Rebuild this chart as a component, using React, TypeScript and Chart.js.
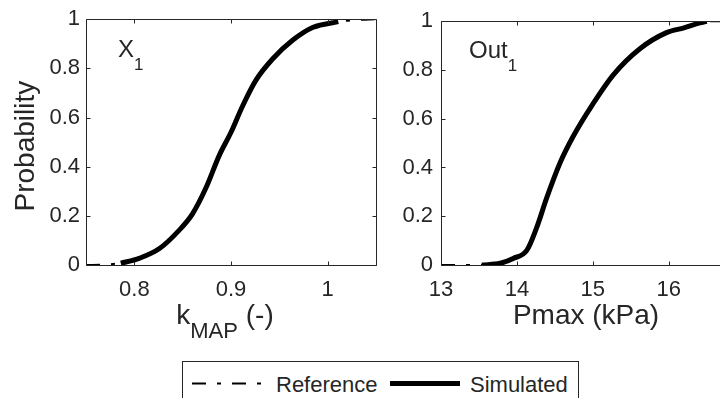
import React, { useEffect, useRef } from "react";
import { Chart, registerables } from "chart.js";

Chart.register(...registerables);

const FONT = "'Liberation Sans', Arial, Helvetica, sans-serif";
const TXT = "#262626";

// ---- Left panel: X1, k_MAP (-) ----
const leftSimX = [0.786, 0.805, 0.826, 0.846, 0.86, 0.874, 0.888, 0.9, 0.912, 0.926, 0.943, 0.964, 0.985, 1.011];
const leftSimY = [0.007, 0.027, 0.067, 0.14, 0.207, 0.313, 0.447, 0.54, 0.647, 0.753, 0.838, 0.915, 0.967, 0.99];
const leftRefX = [0.75, 0.77, 0.786, 0.805, 0.826, 0.846, 0.86, 0.874, 0.888, 0.9, 0.912, 0.926, 0.943, 0.964, 0.985, 1.011, 1.03, 1.05];
const leftRefY = [0, 0.002, 0.008, 0.027, 0.066, 0.14, 0.207, 0.313, 0.447, 0.54, 0.647, 0.753, 0.838, 0.915, 0.967, 0.99, 0.997, 1];
const leftXTicks = [0.8, 0.9, 1];
const leftXRange = [0.75, 1.05];

// ---- Right panel: Out1, Pmax (kPa) ----
const rightSimX = [13.54, 13.78, 13.95, 14.13, 14.26, 14.39, 14.57, 14.74, 15.0, 15.27, 15.62, 15.97, 16.2, 16.41, 16.5];
const rightSimY = [0, 0.007, 0.027, 0.06, 0.153, 0.273, 0.42, 0.527, 0.66, 0.78, 0.887, 0.953, 0.973, 0.993, 1];
const rightRefX = [13, 13.3, 13.54, 13.78, 13.95, 14.13, 14.26, 14.39, 14.57, 14.74, 15.0, 15.27, 15.62, 15.97, 16.2, 16.41, 16.5, 16.82];
const rightRefY = [0, 0, 0.001, 0.007, 0.027, 0.06, 0.153, 0.273, 0.42, 0.527, 0.66, 0.78, 0.887, 0.953, 0.973, 0.993, 1, 1];
const rightXTicks = [13, 14, 15, 16];
const rightXRange = [13, 16.82];

const yTicks = [0, 0.2, 0.4, 0.6, 0.8, 1];
const seriesNames = ["Reference", "Simulated"];

type Run = { t: string; size: number; dy: number };

function drawRuns(ctx: CanvasRenderingContext2D, runs: Run[], x: number, baseY: number, align: "left" | "center") {
  let total = 0;
  const widths = runs.map((r) => {
    ctx.font = `${r.size}px ${FONT}`;
    const w = ctx.measureText(r.t).width;
    total += w;
    return w;
  });
  let cx = align === "center" ? x - total / 2 : x;
  ctx.textAlign = "left";
  ctx.textBaseline = "alphabetic";
  ctx.fillStyle = TXT;
  runs.forEach((r, i) => {
    ctx.font = `${r.size}px ${FONT}`;
    ctx.fillText(r.t, cx, baseY + r.dy);
    cx += widths[i];
  });
}

function pts(xs: number[], ys: number[]) {
  return xs.map((x, i) => ({ x, y: ys[i] }));
}

type PanelCfg = {
  simX: number[];
  simY: number[];
  refX: number[];
  refY: number[];
  xTicks: number[];
  xRange: number[];
  yAxisWidth: number;
  padRight: number;
  yTickPad: number;
  decorate: (ctx: CanvasRenderingContext2D, area: any) => void;
};

function makeChart(canvas: HTMLCanvasElement, cfg: PanelCfg) {
  const frame = {
    id: "frame",
    afterDraw(chart: any) {
      const { ctx, chartArea: a, scales } = chart;
      ctx.save();
      ctx.strokeStyle = TXT;
      ctx.lineWidth = 1;
      const l = Math.round(a.left) + 0.5;
      const t = Math.round(a.top) + 0.5;
      const r = Math.round(a.right) + 0.5;
      const b = Math.round(a.bottom) + 0.5;
      ctx.beginPath();
      ctx.moveTo(l, t);
      ctx.lineTo(r, t);
      ctx.lineTo(r, b);
      ctx.lineTo(l, b);
      ctx.closePath();
      const tl = 4;
      for (const v of cfg.xTicks) {
        const x = Math.round(scales.x.getPixelForValue(v)) + 0.5;
        ctx.moveTo(x, b);
        ctx.lineTo(x, b - tl);
        ctx.moveTo(x, t);
        ctx.lineTo(x, t + tl);
      }
      for (const v of yTicks) {
        const y = Math.round(scales.y.getPixelForValue(v)) + 0.5;
        ctx.moveTo(l, y);
        ctx.lineTo(l + tl, y);
        ctx.moveTo(r, y);
        ctx.lineTo(r - tl, y);
      }
      ctx.stroke();
      cfg.decorate(ctx, a);
      ctx.restore();
    },
  };

  return new Chart(canvas, {
    type: "line",
    data: {
      datasets: [
        {
          label: seriesNames[1],
          data: pts(cfg.simX, cfg.simY),
          borderColor: "#000000",
          borderWidth: 5,
          pointRadius: 0,
          cubicInterpolationMode: "monotone",
          fill: false,
        },
        {
          label: seriesNames[0],
          data: pts(cfg.refX, cfg.refY),
          borderColor: "#000000",
          borderWidth: 2,
          borderDash: [14, 11, 4, 11],
          pointRadius: 0,
          cubicInterpolationMode: "monotone",
          fill: false,
        },
      ],
    },
    options: {
      responsive: false,
      animation: false,
      devicePixelRatio: 1,
      layout: { padding: { left: 0, right: cfg.padRight, top: 15, bottom: 0 } },
      plugins: { legend: { display: false }, tooltip: { enabled: false } },
      scales: {
        x: {
          type: "linear",
          min: cfg.xRange[0],
          max: cfg.xRange[1],
          grid: { display: false, drawTicks: false },
          border: { display: false },
          ticks: {
            font: { family: FONT, size: 22 },
            color: TXT,
            padding: 12,
            maxRotation: 0,
            autoSkip: false,
            callback: (v: any) => String(Math.round(Number(v) * 100) / 100),
          },
          afterBuildTicks: (s: any) => {
            s.ticks = cfg.xTicks.map((v) => ({ value: v }));
          },
          afterFit: (s: any) => {
            s.height = 133;
          },
        },
        y: {
          type: "linear",
          min: 0,
          max: 1,
          grid: { display: false, drawTicks: false },
          border: { display: false },
          ticks: {
            font: { family: FONT, size: 22 },
            color: TXT,
            padding: cfg.yTickPad,
            callback: (v: any) => String(Math.round(Number(v) * 10) / 10),
          },
          afterBuildTicks: (s: any) => {
            s.ticks = yTicks.map((v) => ({ value: v }));
          },
          afterFit: (s: any) => {
            s.width = cfg.yAxisWidth;
          },
        },
      },
    },
    plugins: [frame],
  } as any);
}

export default function App() {
  const leftRef = useRef<HTMLCanvasElement>(null);
  const rightRef = useRef<HTMLCanvasElement>(null);

  useEffect(() => {
    const c1 = makeChart(leftRef.current!, {
      simX: leftSimX,
      simY: leftSimY,
      refX: leftRefX,
      refY: leftRefY,
      xTicks: leftXTicks,
      xRange: leftXRange,
      yAxisWidth: 86,
      padRight: 4,
      yTickPad: 6,
      decorate: (ctx, a) => {
        drawRuns(ctx, [{ t: "X", size: 24, dy: 0 }, { t: "1", size: 17, dy: 13 }], 118, 57, "left");
        drawRuns(
          ctx,
          [
            { t: "k", size: 28, dy: 0 },
            { t: "MAP", size: 22, dy: 14 },
            { t: " (-)", size: 28, dy: 0 },
          ],
          (a.left + a.right) / 2 - 6,
          324,
          "center"
        );
        ctx.save();
        ctx.translate(34, (a.top + a.bottom) / 2 + 4);
        ctx.rotate(-Math.PI / 2);
        drawRuns(ctx, [{ t: "Probability", size: 28, dy: 0 }], 0, 0, "center");
        ctx.restore();
      },
    });
    const c2 = makeChart(rightRef.current!, {
      simX: rightSimX,
      simY: rightSimY,
      refX: rightRefX,
      refY: rightRefY,
      xTicks: rightXTicks,
      xRange: rightXRange,
      yAxisWidth: 61,
      padRight: 9,
      yTickPad: 8,
      decorate: (ctx, a) => {
        drawRuns(ctx, [{ t: "Out", size: 24, dy: 0 }, { t: "1", size: 17, dy: 13 }], 89, 58, "left");
        drawRuns(ctx, [{ t: "Pmax (kPa)", size: 28, dy: 0 }], (a.left + a.right) / 2, 324, "center");
      },
    });
    return () => {
      c1.destroy();
      c2.destroy();
    };
  }, []);

  return (
    <div
      style={{
        position: "fixed",
        left: 0,
        top: 0,
        width: 720,
        height: 398,
        overflow: "hidden",
        background: "#ffffff",
      }}
    >
      <canvas
        ref={leftRef}
        width={380}
        height={398}
        style={{ position: "absolute", left: 0, top: 0, width: 380, height: 398 }}
      />
      <canvas
        ref={rightRef}
        width={360}
        height={398}
        style={{ position: "absolute", left: 380, top: 0, width: 360, height: 398 }}
      />
      <svg
        width={397}
        height={45}
        style={{ position: "absolute", left: 182, top: 361 }}
      >
        <rect x={0.5} y={0.5} width={396} height={44} fill="#ffffff" stroke={TXT} strokeWidth={1} />
        <line x1={10} y1={22.5} x2={83} y2={22.5} stroke="#000" strokeWidth={2} strokeDasharray="14 11 4 11" />
        <text x={94} y={31} fontFamily={FONT} fontSize={22} fill={TXT}>
          {seriesNames[0]}
        </text>
        <line x1={208} y1={22.5} x2={278} y2={22.5} stroke="#000" strokeWidth={5} />
        <text x={288} y={31} fontFamily={FONT} fontSize={22} fill={TXT}>
          {seriesNames[1]}
        </text>
      </svg>
    </div>
  );
}
